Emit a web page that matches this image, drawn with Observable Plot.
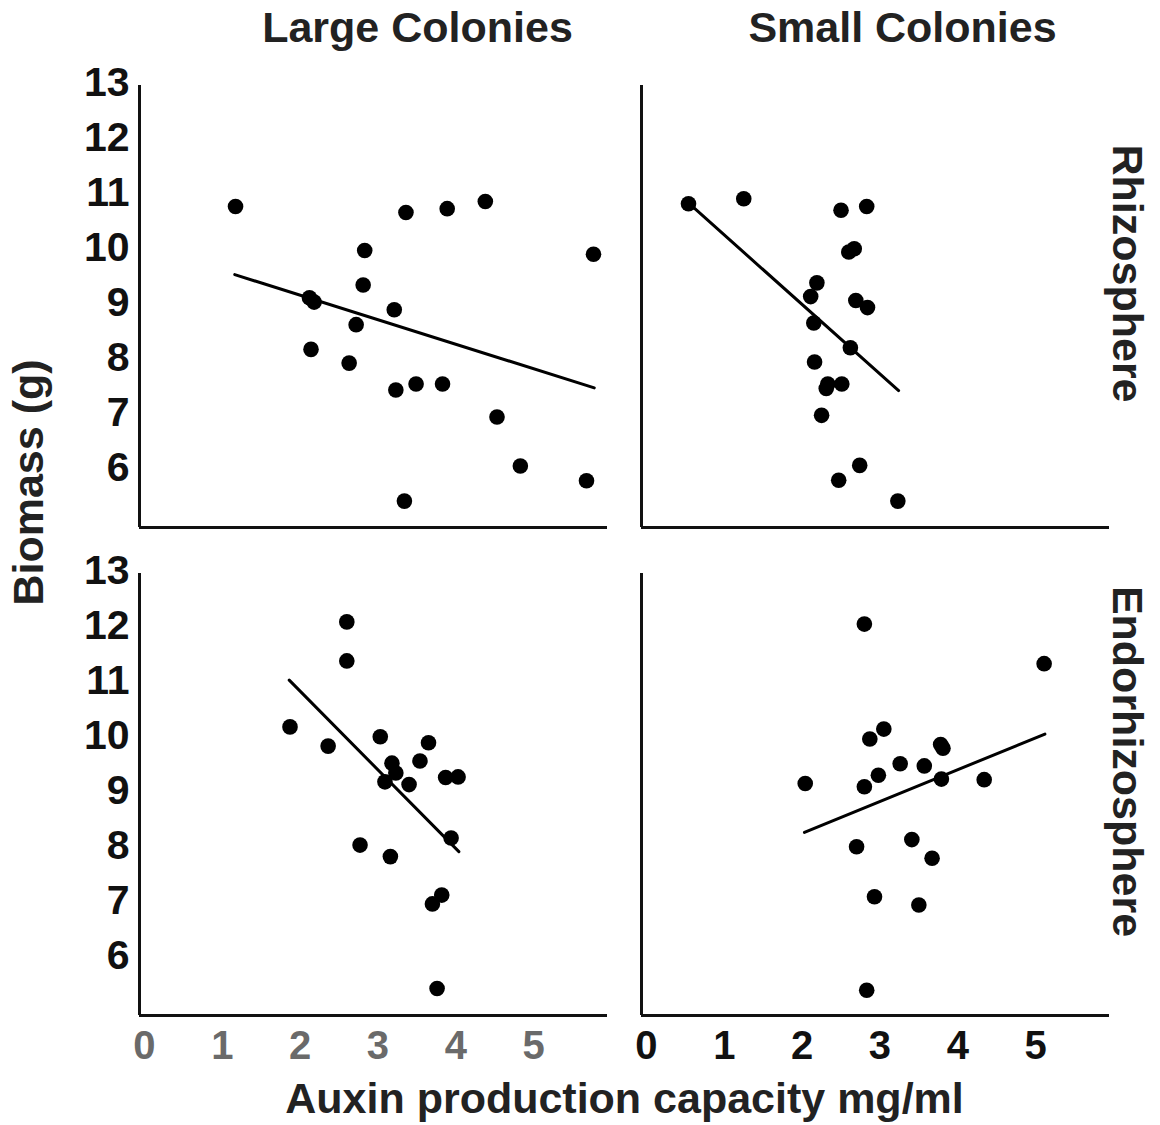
<!DOCTYPE html>
<html>
<head>
<meta charset="utf-8">
<script src="https://cdn.jsdelivr.net/npm/d3@7"></script>
<script src="https://cdn.jsdelivr.net/npm/@observablehq/plot@0.6"></script>
<style>
  html, body { margin: 0; padding: 0; background: #ffffff; }
  #chart { width: 1160px; height: 1125px; }
</style>
</head>
<body>
<div id="chart"></div>
<script>
// ---- categories & tick labels ----
const colonies = ["Large Colonies", "Small Colonies"];
const zones = ["Rhizosphere", "Endorhizosphere"];
const xTicks = [0, 1, 2, 3, 4, 5];
const yTicks = [6, 7, 8, 9, 10, 11, 12, 13];
const xTitle = "Auxin production capacity mg/ml";
const yTitle = "Biomass (g)";

// ---- series values ----
const largeRhizoX = [1.17, 3.36, 3.89, 4.38, 2.83, 5.77, 2.81, 2.12, 2.18, 3.21, 2.72, 2.14, 2.63, 3.23, 3.49, 3.83, 4.53, 4.83, 5.68, 3.34];
const largeRhizoY = [10.76, 10.65, 10.72, 10.85, 9.96, 9.89, 9.33, 9.10, 9.02, 8.88, 8.61, 8.16, 7.91, 7.42, 7.53, 7.53, 6.93, 6.04, 5.77, 5.40];

const smallRhizoX = [0.54, 1.25, 2.50, 2.83, 2.60, 2.67, 2.19, 2.11, 2.69, 2.84, 2.15, 2.62, 2.16, 2.33, 2.31, 2.51, 2.25, 2.74, 2.47, 3.23];
const smallRhizoY = [10.81, 10.90, 10.69, 10.76, 9.93, 9.99, 9.37, 9.12, 9.05, 8.92, 8.64, 8.19, 7.93, 7.53, 7.45, 7.53, 6.96, 6.05, 5.78, 5.40];

const largeEndoX = [2.60, 2.60, 1.87, 2.36, 3.03, 3.65, 3.54, 3.18, 3.23, 3.09, 3.40, 3.87, 4.03, 3.94, 2.77, 3.16, 3.82, 3.70, 3.76];
const largeEndoY = [12.08, 11.37, 10.17, 9.82, 9.99, 9.88, 9.55, 9.51, 9.33, 9.17, 9.12, 9.25, 9.26, 8.15, 8.02, 7.81, 7.11, 6.95, 5.41];

const smallEndoX = [2.80, 5.11, 3.05, 2.87, 3.78, 3.81, 3.26, 3.57, 2.98, 2.80, 2.04, 3.79, 4.34, 2.70, 3.41, 3.67, 2.93, 3.50, 2.83];
const smallEndoY = [12.04, 11.32, 10.13, 9.95, 9.85, 9.78, 9.50, 9.46, 9.29, 9.08, 9.14, 9.22, 9.21, 7.99, 8.12, 7.78, 7.08, 6.93, 5.38];

// fitted trend lines (end points)
const fitLargeRhizoX = [1.16, 5.78], fitLargeRhizoY = [9.52, 7.46];
const fitSmallRhizoX = [0.55, 3.24], fitSmallRhizoY = [10.81, 7.41];
const fitLargeEndoX = [1.86, 4.04], fitLargeEndoY = [11.02, 7.90];
const fitSmallEndoX = [2.03, 5.12], fitSmallEndoY = [8.25, 10.04];

// ---- build tables ----
const panels = [
  {col: colonies[0], zone: zones[0], xs: largeRhizoX, ys: largeRhizoY, fx: fitLargeRhizoX, fy: fitLargeRhizoY},
  {col: colonies[1], zone: zones[0], xs: smallRhizoX, ys: smallRhizoY, fx: fitSmallRhizoX, fy: fitSmallRhizoY},
  {col: colonies[0], zone: zones[1], xs: largeEndoX, ys: largeEndoY, fx: fitLargeEndoX, fy: fitLargeEndoY},
  {col: colonies[1], zone: zones[1], xs: smallEndoX, ys: smallEndoY, fx: fitSmallEndoX, fy: fitSmallEndoY}
];
const points = panels.flatMap(p => p.xs.map((x, i) => ({x, y: p.ys[i], col: p.col, zone: p.zone})));
const fits = panels.flatMap((p, k) => p.fx.map((x, i) => ({x, y: p.fy[i], col: p.col, zone: p.zone, id: k})));
const yTickData = zones.flatMap(z => yTicks.map(v => ({v, zone: z})));

const xDomain = [-0.064, 5.95];
const yDomain = [4.92, 12.96];
const font = "'Liberation Sans', Arial, Helvetica, sans-serif";

const chart = Plot.plot({
  width: 1160,
  height: 1125,
  marginLeft: 139,
  marginRight: 51,
  marginTop: 85,
  marginBottom: 110,
  style: {background: "#ffffff", fontFamily: font, overflow: "visible"},
  x: {domain: xDomain, axis: null},
  y: {domain: yDomain, axis: null},
  fx: {domain: colonies, paddingInner: 0.068, paddingOuter: 0, axis: null},
  fy: {domain: zones, paddingInner: 0.0943, paddingOuter: 0, axis: null},
  marks: [
    // axis lines (L-shaped frame in every panel)
    Plot.ruleX([xDomain[0]], {stroke: "#111", strokeWidth: 3}),
    Plot.ruleY([yDomain[0]], {stroke: "#111", strokeWidth: 3}),
    // trend lines
    Plot.line(fits, {x: "x", y: "y", z: "id", fx: "col", fy: "zone", stroke: "#000", strokeWidth: 3}),
    // points
    Plot.dot(points, {x: "x", y: "y", fx: "col", fy: "zone", r: 7.8, fill: "#000", stroke: "none"}),
    // y tick labels (left panels only)
    Plot.text(yTickData, {y: "v", text: d => String(d.v), fx: () => colonies[0], fy: "zone",
      frameAnchor: "left", textAnchor: "end", dx: -10, fontSize: 41, fontWeight: "bold", fill: "#111"}),
    // x tick labels (bottom panels only; left grey, right black)
    Plot.text(xTicks, {x: d => d, text: d => String(d), fx: () => colonies[0], fy: () => zones[1],
      frameAnchor: "bottom", lineAnchor: "middle", dy: 31, fontSize: 40, fontWeight: "bold", fill: "#6a6a6a"}),
    Plot.text(xTicks, {x: d => d, text: d => String(d), fx: () => colonies[1], fy: () => zones[1],
      frameAnchor: "bottom", lineAnchor: "middle", dy: 31, fontSize: 40, fontWeight: "bold", fill: "#111"}),
    // column titles
    Plot.text([colonies[0]], {fx: d => d, fy: () => zones[0], frameAnchor: "top", lineAnchor: "middle", dy: -57, dx: 44,
      fontSize: 43, fontWeight: "bold", fill: "#222"}),
    Plot.text([colonies[1]], {fx: d => d, fy: () => zones[0], frameAnchor: "top", lineAnchor: "middle", dy: -57, dx: 27,
      fontSize: 43, fontWeight: "bold", fill: "#222"}),
    // row titles
    Plot.text(zones, {fx: () => colonies[1], fy: d => d, frameAnchor: "right", textAnchor: "middle", lineAnchor: "middle",
      rotate: 90, dx: 17, dy: -33, fontSize: 43, fontWeight: "bold", fill: "#222"}),
    // axis titles
    Plot.text([yTitle], {facet: "super", frameAnchor: "left", textAnchor: "middle", lineAnchor: "middle",
      rotate: -90, dx: -110, dy: -68, fontSize: 43, fontWeight: "bold", fill: "#222"}),
    Plot.text([xTitle], {facet: "super", frameAnchor: "bottom", lineAnchor: "middle", dy: 84,
      fontSize: 43, fontWeight: "bold", fill: "#222"})
  ]
});
document.getElementById("chart").appendChild(chart);
</script>
</body>
</html>
